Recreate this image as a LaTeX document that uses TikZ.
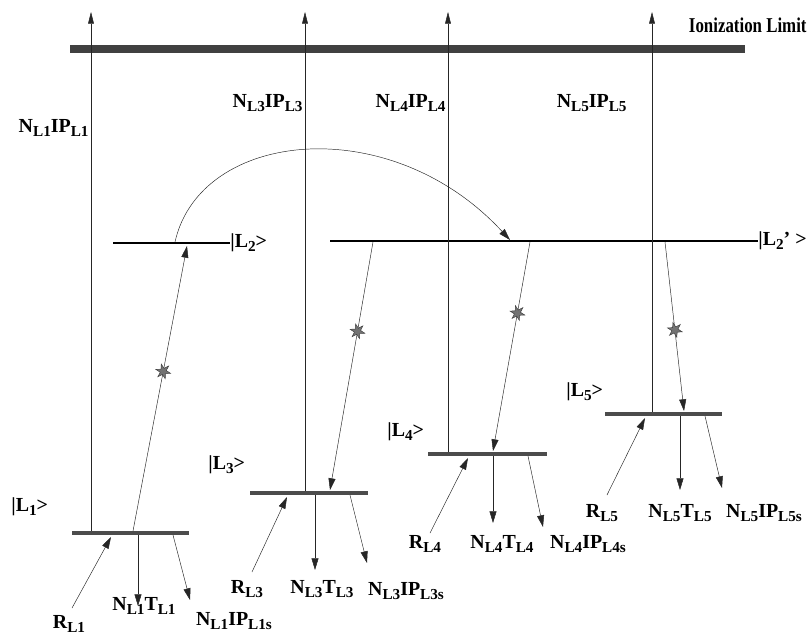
\documentclass[tikz,border=0pt]{standalone}
\usepackage{fontspec}
\setmainfont{Liberation Serif}
\usetikzlibrary{arrows.meta,shapes.geometric}
\newcommand{\lsub}[1]{\raisebox{-0.45ex}{\fontsize{13}{13}\selectfont #1}}

\begin{document}
\begin{tikzpicture}[
        x=0.03cm, y=-0.03cm,
        every node/.style={font=\fontsize{17}{20}\selectfont\bfseries, inner sep=1pt},
        conn/.style={draw=black!85, thin, -{Triangle[length=10pt,width=6pt]}},
        uparrow/.style={draw=black!85, thin, -{Triangle[length=10pt,width=5pt]}},
        limit/.style={draw=black!75, line width=6pt},
        thinlevel/.style={draw=black, line width=1.3pt},
        thicklevel/.style={draw=black!70, line width=4pt},
        starmark/.style={star, star points=6, star point ratio=2.4, fill=black!55, draw=black!75, minimum size=13pt, inner sep=0pt},
    ]
    \useasboundingbox (0,0) rectangle (810,639);

    % levels
    \coordinate (ionw) at (70,49);   \coordinate (ione) at (745,49);
    \coordinate (l1w) at (72,533);   \coordinate (l1e) at (189,533);
    \coordinate (l2w) at (113,243);  \coordinate (l2e) at (230,243);
    \coordinate (l2pw) at (330,241); \coordinate (l2pe) at (758,241);
    \coordinate (l3w) at (250,493);  \coordinate (l3e) at (368,493);
    \coordinate (l4w) at (428,454);  \coordinate (l4e) at (547,454);
    \coordinate (l5w) at (605,414);  \coordinate (l5e) at (722,414);

    \draw[limit] (ionw) -- (ione);
    \draw[thinlevel] (l2w) -- (l2e);
    \draw[thinlevel] (l2pw) -- (l2pe);
    \draw[thicklevel] (l1w) -- (l1e);
    \draw[thicklevel] (l3w) -- (l3e);
    \draw[thicklevel] (l4w) -- (l4e);
    \draw[thicklevel] (l5w) -- (l5e);

    \node[anchor=east, font=\fontsize{18}{20}\selectfont\bfseries] (ionlabel) at (808,25) {\scalebox{0.8}[1]{Ionization Limit}};
    \node[anchor=west] (ket1) at (10,507) {|L\lsub{1}>};
    \node[anchor=west] (ket2) at (229,243) {|L\lsub{2}>};
    \node[anchor=west] (ket2p) at (757,241) {|L\lsub{2}' >};
    \node[anchor=west] (ket3) at (207,465) {|L\lsub{3}>};
    \node[anchor=west] (ket4) at (386,432) {|L\lsub{4}>};
    \node[anchor=west] (ket5) at (565,392) {|L\lsub{5}>};

    % ionization
    \coordinate (i1) at (91,531);   \coordinate (top1) at (91,12);
    \coordinate (i3) at (305,491);  \coordinate (top3) at (305,12);
    \coordinate (i4) at (448,452);  \coordinate (top4) at (448,12);
    \coordinate (i5) at (652,412);  \coordinate (top5) at (652,12);
    \draw[uparrow] (i1) -- (top1);
    \draw[uparrow] (i3) -- (top3);
    \draw[uparrow] (i4) -- (top4);
    \draw[uparrow] (i5) -- (top5);
    \node[anchor=east] (nip1) at (90,128) {N\lsub{L1}IP\lsub{L1}};
    \node[anchor=east] (nip3) at (304,103) {N\lsub{L3}IP\lsub{L3}};
    \node[anchor=east] (nip4) at (447,103) {N\lsub{L4}IP\lsub{L4}};
    \node[anchor=east] (nip5) at (628,103) {N\lsub{L5}IP\lsub{L5}};

    % excitation and transfer
    \coordinate (ex1) at (133,531);  \coordinate (ex2) at (187,246);
    \draw[conn] (ex1) -- node[starmark, pos=0.56, rotate=15] (st1) {} (ex2);
    \coordinate (tr2) at (175,242);  \coordinate (tr2p) at (510,240);
    \draw[conn] (tr2) .. controls (200,130) and (390,110) .. (tr2p);

    \coordinate (d3a) at (373,242);  \coordinate (d3b) at (330,490);
    \coordinate (d4a) at (530,242);  \coordinate (d4b) at (493,451);
    \coordinate (d5a) at (665,242);  \coordinate (d5b) at (684,411);
    \draw[conn] (d3a) -- node[starmark, pos=0.36, rotate=15] (st3) {} (d3b);
    \draw[conn] (d4a) -- node[starmark, pos=0.34, rotate=15] (st4) {} (d4b);
    \draw[conn] (d5a) -- node[starmark, pos=0.52, rotate=15] (st5) {} (d5b);

    % L1 channels
    \coordinate (r1) at (72,608);    \coordinate (r1e) at (111,537);
    \coordinate (t1) at (138,535);   \coordinate (t1e) at (138,606);
    \coordinate (s1) at (173,535);   \coordinate (s1e) at (190,600);
    \draw[conn] (r1) -- (r1e);
    \draw[conn] (t1) -- (t1e);
    \draw[conn] (s1) -- (s1e);
    \node (rl1) at (69,624) {R\lsub{L1}};
    \node (ntl1) at (144,606) {N\lsub{L1}T\lsub{L1}};
    \node (nipl1) at (234,621) {N\lsub{L1}IP\lsub{L1s}};

    % L3 channels
    \coordinate (r3) at (252,572);   \coordinate (r3e) at (287,497);
    \coordinate (t3) at (315,495);   \coordinate (t3e) at (315,570);
    \coordinate (s3) at (350,495);   \coordinate (s3e) at (367,563);
    \draw[conn] (r3) -- (r3e);
    \draw[conn] (t3) -- (t3e);
    \draw[conn] (s3) -- (s3e);
    \node (rl3) at (247,589) {R\lsub{L3}};
    \node (ntl3) at (322,589) {N\lsub{L3}T\lsub{L3}};
    \node (nipl3) at (406,591) {N\lsub{L3}IP\lsub{L3s}};

    % L4 channels
    \coordinate (r4) at (430,533);   \coordinate (r4e) at (468,458);
    \coordinate (t4) at (493,456);   \coordinate (t4e) at (493,523);
    \coordinate (s4) at (528,456);   \coordinate (s4e) at (543,527);
    \draw[conn] (r4) -- (r4e);
    \draw[conn] (t4) -- (t4e);
    \draw[conn] (s4) -- (s4e);
    \node (rl4) at (425,544) {R\lsub{L4}};
    \node (ntl4) at (502,544) {N\lsub{L4}T\lsub{L4}};
    \node (nipl4) at (588,544) {N\lsub{L4}IP\lsub{L4s}};

    % L5 channels
    \coordinate (r5) at (607,495);   \coordinate (r5e) at (645,418);
    \coordinate (t5) at (680,416);   \coordinate (t5e) at (680,490);
    \coordinate (s5) at (705,416);   \coordinate (s5e) at (722,488);
    \draw[conn] (r5) -- (r5e);
    \draw[conn] (t5) -- (t5e);
    \draw[conn] (s5) -- (s5e);
    \node (rl5) at (602,513) {R\lsub{L5}};
    \node (ntl5) at (680,513) {N\lsub{L5}T\lsub{L5}};
    \node (nipl5) at (764,513) {N\lsub{L5}IP\lsub{L5s}};

    \end{tikzpicture}
\end{document}
